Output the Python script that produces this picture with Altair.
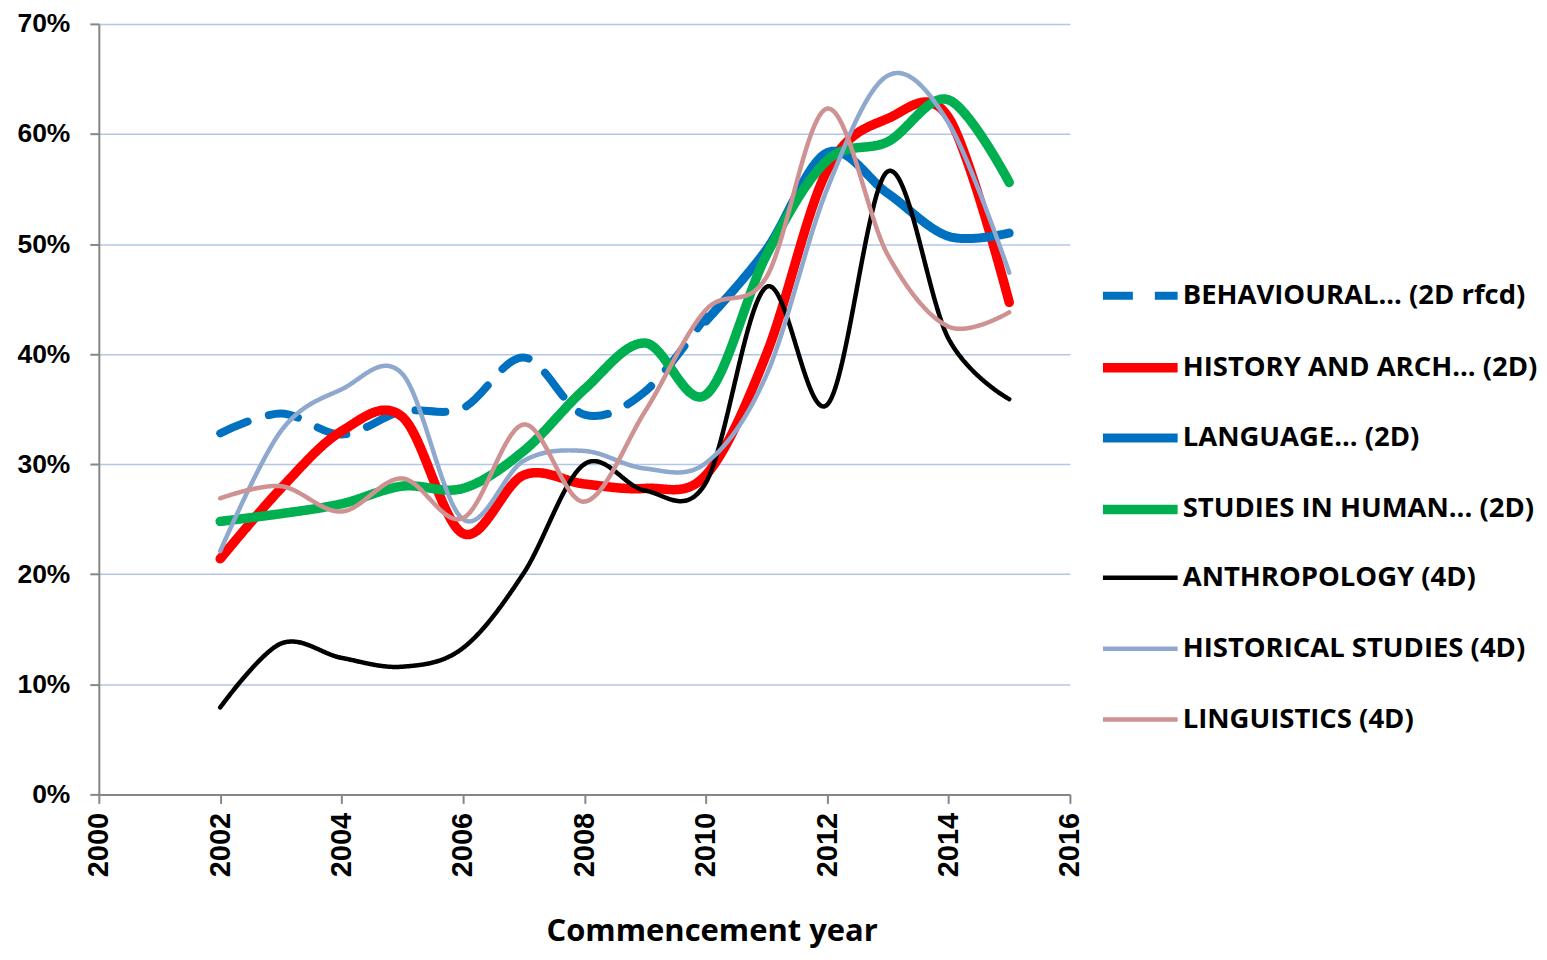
import altair as alt
import pandas as pd

years = list(range(2002, 2016))

series_names = [
    "BEHAVIOURAL... (2D rfcd)",
    "HISTORY AND ARCH... (2D)",
    "LANGUAGE... (2D)",
    "STUDIES IN HUMAN... (2D)",
    "ANTHROPOLOGY (4D)",
    "HISTORICAL STUDIES (4D)",
    "LINGUISTICS (4D)",
]

behavioural = [32.8, 34.6, 32.7, 34.8, 35.1, 39.7, 34.5, 36.6, 43.4, None, None, None, None, None]
history_arch = [21.4, 27.8, 33.0, 34.3, 23.7, 29.0, 28.2, 27.8, 29.0, 40.0, 56.7, 61.4, 61.5, 44.7]
language = [None, None, None, None, None, None, None, None, 43.0, 49.5, 58.3, 54.6, 50.7, 51.0]
studies_human = [24.8, 25.5, 26.4, 28.0, 27.8, 31.2, 36.8, 41.0, 36.3, 49.0, 57.6, 59.3, 63.1, 55.6]
anthropology = [7.9, 13.7, 12.4, 11.6, 13.3, 20.1, 30.0, 27.6, 28.3, 46.1, 35.4, 56.6, 41.4, 35.9]
historical = [22.1, 33.0, 36.8, 38.2, 25.0, 30.3, 31.2, 29.6, 30.1, 38.1, 55.0, 65.3, 61.0, 47.4]
linguistics = [26.9, 28.0, 25.7, 28.7, 25.1, 33.6, 26.6, 34.8, 44.0, 47.0, 62.3, 49.0, 42.5, 43.8]

all_values = [behavioural, history_arch, language, studies_human, anthropology, historical, linguistics]

colors = ["#0070C0", "#FF0000", "#0070C0", "#00B050", "#000000", "#8EA8CE", "#CF9292"]
dashes = [[30, 22], [1, 0], [1, 0], [1, 0], [1, 0], [1, 0], [1, 0]]
widths = [8, 9.5, 9, 9.5, 4.5, 4.5, 4.5]

rows = []
for name, vals in zip(series_names, all_values):
    for yr, v in zip(years, vals):
        if v is not None:
            rows.append({"series": name, "year": yr, "share": v / 100.0})
df = pd.DataFrame(rows)

legend = alt.Legend(
    orient="none",
    legendX=1001,
    legendY=231,
    symbolType="stroke",
    symbolSize=5600,
    labelFont="Open Sans",
    labelFontWeight="bold",
    labelFontSize=27.5,
    labelColor="#000000",
    labelOffset=0,
    labelLimit=500,
    rowPadding=9,
    gridAlign="all",
    padding=0,
)

series_sort = series_names

chart = (
    alt.Chart(df)
    .mark_line(interpolate="cardinal", strokeCap="round", strokeJoin="round")
    .encode(
        x=alt.X(
            "year:Q",
            scale=alt.Scale(domain=[2000, 2016], nice=False, zero=False),
            axis=alt.Axis(
                values=[2000, 2002, 2004, 2006, 2008, 2010, 2012, 2014, 2016],
                format="d",
                labelAngle=-90,
                labelFont="Liberation Sans",
                labelFontWeight="bold",
                labelFontSize=29,
                labelColor="#000000",
                labelPadding=9,
                tickSize=9,
                tickColor="#868686",
                tickWidth=2,
                domainColor="#868686",
                domainWidth=2,
                grid=False,
                title="Commencement year",
                titleFont="Open Sans",
                titleFontWeight="bold",
                titleFontSize=31,
                titleColor="#000000",
                titlePadding=40,
                titleX=614,
                titleAlign="center",
            ),
        ),
        y=alt.Y(
            "share:Q",
            scale=alt.Scale(domain=[0, 0.7], nice=False),
            axis=alt.Axis(
                values=[0, 0.1, 0.2, 0.3, 0.4, 0.5, 0.6, 0.7],
                format=".0%",
                labelFont="Liberation Sans",
                labelFontWeight="bold",
                labelFontSize=26.5,
                labelColor="#000000",
                labelPadding=20,
                tickSize=9,
                tickColor="#868686",
                tickWidth=2,
                domainColor="#868686",
                domainWidth=2,
                grid=True,
                gridColor="#B4C6E7",
                gridWidth=1.5,
                title=None,
            ),
        ),
        color=alt.Color(
            "series:O",
            sort=series_sort,
            scale=alt.Scale(type="ordinal", domain=series_names, range=colors),
            legend=legend,
            title=None,
        ),
        strokeDash=alt.StrokeDash(
            "series:O",
            sort=series_sort,
            scale=alt.Scale(type="ordinal", domain=series_names, range=dashes),
            legend=legend,
            title=None,
        ),
        strokeWidth=alt.StrokeWidth(
            "series:O",
            sort=series_sort,
            scale=alt.Scale(type="ordinal", domain=series_names, range=widths),
            legend=legend,
            title=None,
        ),
        order="year:Q",
    )
    .properties(
        width=973,
        height=772,
        autosize=alt.AutoSizeParams(type="none"),
        padding={"left": 91, "top": 15, "right": 470, "bottom": 157},
    )
    .configure_view(stroke=None)
)

chart.save("out.html", embed_options={"renderer": "svg", "actions": False})
